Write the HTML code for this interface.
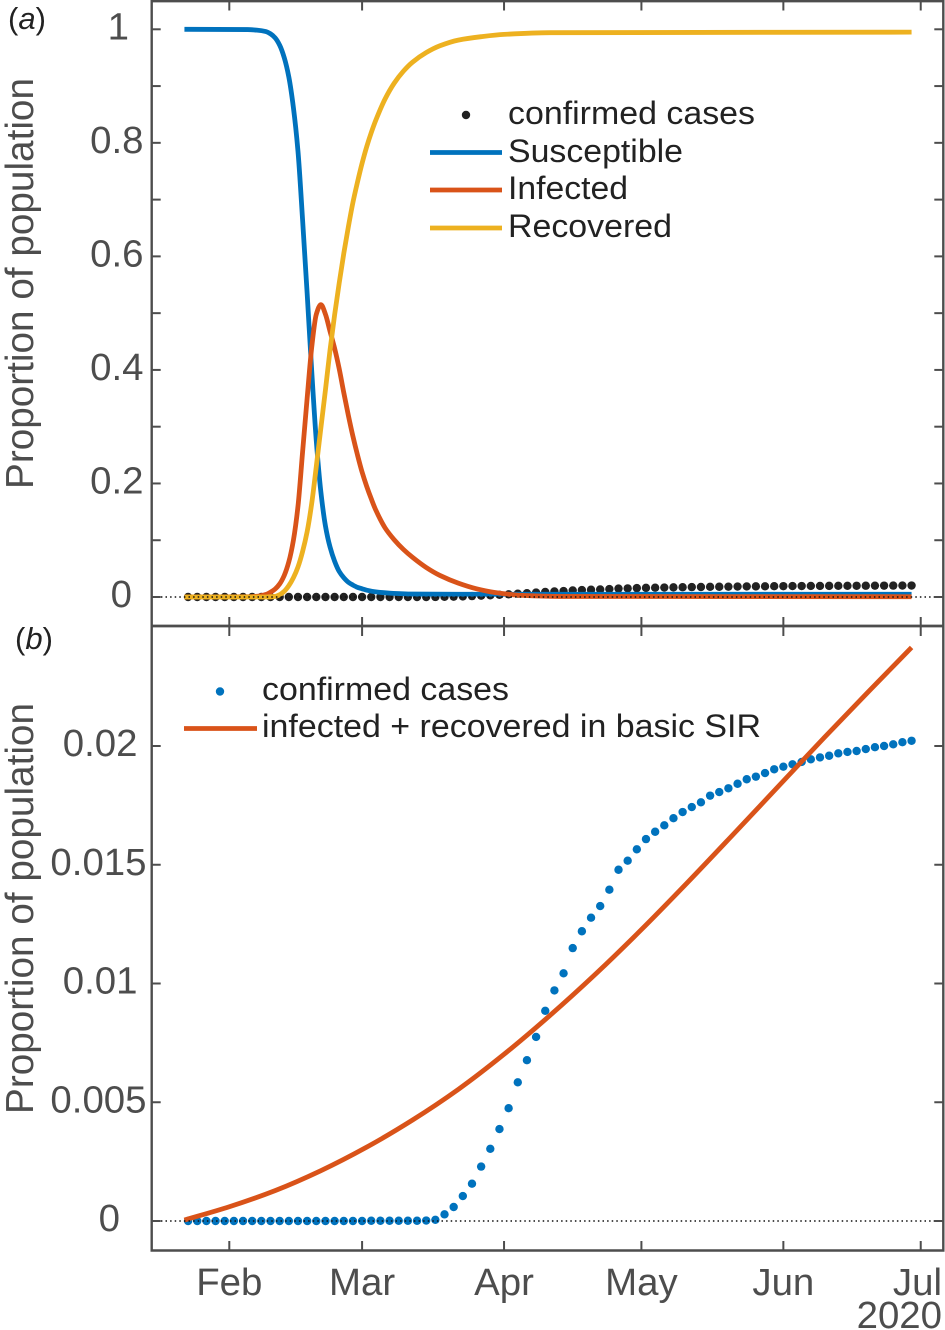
<!DOCTYPE html>
<html lang="en">
<head>
<meta charset="utf-8">
<title>SIR model and confirmed cases</title>
<style>
html,body{margin:0;padding:0;background:#fff;}
svg{display:block;font-family:"Liberation Sans",Arial,sans-serif;}
.tick-label{font-size:38.4px;fill:#4d4d4d;}
.axis-title{font-size:39px;fill:#4d4d4d;}
.legend-text{font-size:32px;fill:#222;}
.panel-letter{font-size:31px;fill:#222;}
</style>
</head>
<body>
<svg id="chart" width="945" height="1330" viewBox="0 0 945 1330" xmlns="http://www.w3.org/2000/svg">
  <g id="panel-a"></g>
  <g id="panel-b"></g>

  <text class="panel-letter" x="8" y="29">(<tspan font-style="italic">a</tspan>)</text>
  <text class="panel-letter" x="15" y="649">(<tspan font-style="italic">b</tspan>)</text>

  <text class="axis-title" transform="translate(33,489) rotate(-90)" textLength="411" lengthAdjust="spacingAndGlyphs">Proportion of population</text>
  <text class="axis-title" transform="translate(33,1114) rotate(-90)" textLength="411" lengthAdjust="spacingAndGlyphs">Proportion of population</text>

  <g>
    <circle cx="466" cy="115" r="4.2" fill="#222"/>
    <text class="legend-text" x="508" y="124" textLength="247" lengthAdjust="spacingAndGlyphs">confirmed cases</text>
    <line x1="430" x2="502" y1="152.5" y2="152.5" stroke="#0072BD" stroke-width="4.8"/>
    <text class="legend-text" x="508" y="162" textLength="175" lengthAdjust="spacingAndGlyphs">Susceptible</text>
    <line x1="430" x2="502" y1="190" y2="190" stroke="#D95319" stroke-width="4.8"/>
    <text class="legend-text" x="508" y="199" textLength="120" lengthAdjust="spacingAndGlyphs">Infected</text>
    <line x1="430" x2="502" y1="228" y2="228" stroke="#EDB120" stroke-width="4.8"/>
    <text class="legend-text" x="508" y="237" textLength="164" lengthAdjust="spacingAndGlyphs">Recovered</text>
  </g>

  <g>
    <circle cx="220" cy="691.5" r="4.2" fill="#0072BD"/>
    <text class="legend-text" x="262" y="700" textLength="247" lengthAdjust="spacingAndGlyphs">confirmed cases</text>
    <line x1="184" x2="257" y1="728.5" y2="728.5" stroke="#D95319" stroke-width="4.8"/>
    <text class="legend-text" x="262" y="737" textLength="499" lengthAdjust="spacingAndGlyphs">infected + recovered in basic SIR</text>
  </g>
</svg>

<script>
// ---- data (days are counted from 1 Feb 2020) ----
const monthLabels = ['Feb', 'Mar', 'Apr', 'May', 'Jun', 'Jul'];
const monthDays = [0, 29, 60, 90, 121, 151];
const yearLabel = '2020';

const panelATicks = [0, 0.1, 0.2, 0.3, 0.4, 0.5, 0.6, 0.7, 0.8, 0.9, 1];
const panelATickLabels = ['0', '', '0.2', '', '0.4', '', '0.6', '', '0.8', '', '1'];
const panelBTicks = [0, 0.005, 0.01, 0.015, 0.02];
const panelBTickLabels = ['0', '0.005', '0.01', '0.015', '0.02'];

const confirmedFirstDay = -9;
const confirmedStepDays = 2;
const confirmed = [
  0, 0, 0, 0, 0, 0, 0, 0, 0, 0,
  0, 0, 0, 0, 0, 0, 0, 0, 0, 0,
  0.00001, 0.00001, 0.00001, 0.00001, 0.00001, 0.00001,
  0.00002, 0.00005, 0.00028, 0.00059, 0.00105, 0.00157, 0.00229, 0.00304, 0.00387, 0.00475,
  0.00584, 0.00677, 0.00775, 0.00885, 0.00971, 0.01043, 0.01149, 0.0122, 0.01277, 0.01326,
  0.01395, 0.01479, 0.01517, 0.01565, 0.01608, 0.01639, 0.01666, 0.01696, 0.01722, 0.01743,
  0.01763, 0.01791, 0.01806, 0.01822, 0.01841, 0.0186, 0.01871, 0.01886, 0.01902, 0.01913,
  0.01923, 0.01933, 0.01944, 0.01952, 0.01959, 0.01969, 0.01975, 0.01979, 0.01987, 0.01995,
  0.02, 0.02007, 0.02016, 0.02022
];

const susceptibleDays = [-9.8, 4, 6, 8, 9, 10, 11, 12, 13, 14, 15, 16, 17, 18, 19, 20, 21, 22, 23, 24, 25, 26, 27, 28, 29, 30, 32, 35, 40, 50, 149];
const susceptible = [1, 0.9995, 0.9985, 0.996, 0.992, 0.985, 0.972, 0.95, 0.916, 0.862, 0.785, 0.665, 0.535, 0.398, 0.275, 0.185, 0.125, 0.088, 0.063, 0.045, 0.034, 0.026, 0.021, 0.017, 0.0145, 0.012, 0.009, 0.0068, 0.0052, 0.0048, 0.0048];

const infectedDays = [-9.8, 4, 6, 8, 9, 10, 11, 12, 13, 14, 15, 16, 17, 18, 19, 20, 21, 22, 23, 24, 25, 26, 27, 28, 29, 30, 31, 32, 34, 36, 38, 40, 43, 46, 50, 54, 58, 64, 72, 149];
const infected = [0, 0.0005, 0.0012, 0.0045, 0.0085, 0.014, 0.023, 0.038, 0.062, 0.1, 0.16, 0.255, 0.35, 0.44, 0.498, 0.515, 0.498, 0.468, 0.438, 0.402, 0.36, 0.32, 0.283, 0.25, 0.22, 0.195, 0.173, 0.153, 0.122, 0.101, 0.084, 0.07, 0.052, 0.038, 0.0245, 0.0145, 0.008, 0.0028, 0.001, 0.0005];

const recoveredDays = [-9.8, 8, 10, 11, 12, 13, 14, 15, 16, 17, 18, 19, 20, 21, 22, 23, 24, 25, 26, 27, 28, 29, 30, 31, 32, 34, 36, 38, 40, 43, 46, 50, 55, 60, 70, 149];
const recovered = [0, 0, 0.001, 0.004, 0.01, 0.02, 0.034, 0.053, 0.08, 0.115, 0.165, 0.23, 0.298, 0.365, 0.435, 0.497, 0.553, 0.605, 0.652, 0.695, 0.731, 0.764, 0.793, 0.818, 0.84, 0.877, 0.905, 0.926, 0.942, 0.959, 0.971, 0.981, 0.987, 0.991, 0.994, 0.995];

const sirDays = [-9.8, 0, 10, 20, 30, 40, 50, 60, 70, 80, 90, 100, 110, 120, 130, 140, 149];
const sirTotal = [0.00004, 0.0006, 0.00128, 0.00212, 0.00311, 0.00425, 0.00554, 0.00702, 0.00865, 0.0104, 0.01227, 0.01424, 0.01627, 0.01832, 0.02037, 0.02237, 0.02415];

// ---- scales ----
const NS = 'http://www.w3.org/2000/svg';
const AXIS = '#4d4d4d';
const LEFT = 151.7, RIGHT = 943.3;
function xScale(d) { return 229.3 + 4.579 * d; }
function yA(v) { return 597 - 567.7 * v; }
function yB(v) { return 1221 - 23750 * v; }

function svgEl(parent, tag, attrs) {
  const el = document.createElementNS(NS, tag);
  for (const k in attrs) el.setAttribute(k, attrs[k]);
  parent.appendChild(el);
  return el;
}

// monotone cubic path through the read points
function curvePath(days, values, yScale) {
  const xs = days.map(xScale), ys = values.map(yScale), n = xs.length;
  const sl = [], m = [];
  for (let i = 0; i < n - 1; i++) sl.push((ys[i + 1] - ys[i]) / (xs[i + 1] - xs[i]));
  m.push(sl[0]);
  for (let i = 1; i < n - 1; i++) m.push(sl[i - 1] * sl[i] <= 0 ? 0 : 2 * sl[i - 1] * sl[i] / (sl[i - 1] + sl[i]));
  m.push(sl[n - 2]);
  let d = 'M' + xs[0].toFixed(2) + ' ' + ys[0].toFixed(2);
  for (let i = 0; i < n - 1; i++) {
    const h = (xs[i + 1] - xs[i]) / 3;
    d += 'C' + (xs[i] + h).toFixed(2) + ' ' + (ys[i] + m[i] * h).toFixed(2) + ' ' +
      (xs[i + 1] - h).toFixed(2) + ' ' + (ys[i + 1] - m[i + 1] * h).toFixed(2) + ' ' +
      xs[i + 1].toFixed(2) + ' ' + ys[i + 1].toFixed(2);
  }
  return d;
}

function drawCurve(parent, name, days, values, yScale, color) {
  const p = svgEl(parent, 'path', { d: curvePath(days, values, yScale), fill: 'none', stroke: color, 'stroke-width': 4.8, 'stroke-linejoin': 'round' });
  
  
}

function drawDots(parent, name, yScale, color) {
  const g = svgEl(parent, 'g', { fill: color });
  
  
  confirmed.forEach(function (v, i) {
    const c = svgEl(g, 'circle', { cx: xScale(confirmedFirstDay + confirmedStepDays * i).toFixed(2), cy: yScale(v).toFixed(2), r: 4.2 });
    
    
  });
}

function drawBaseline(parent, name, y) {
  const l = svgEl(parent, 'line', { x1: LEFT, x2: RIGHT, y1: y, y2: y, stroke: '#111', 'stroke-width': 1.6, 'stroke-dasharray': '1.5 3.1' });
  
  
}

function axisLine(parent, name, x1, y1, x2, y2, w) {
  const l = svgEl(parent, 'line', { x1: x1, y1: y1, x2: x2, y2: y2, stroke: AXIS, 'stroke-width': w });
  
  
}

function yLabelEnd(panel, label) {
  if (panel === 'a') return label === '1' ? 129 : label === '0' ? 132 : 143.5;
  return label.length === 5 ? 146.5 : label.length === 4 ? 137.5 : 120;
}

function drawYAxis(parent, panel, ticks, labels, yScale) {
  ticks.forEach(function (t, i) {
    const y = yScale(t);
    axisLine(parent, 'y-tick-left', LEFT, y, LEFT + 9, y, 2);
    axisLine(parent, 'y-tick-right', RIGHT - 9, y, RIGHT, y, 2);
    if (labels[i]) {
      const tx = svgEl(parent, 'text', { x: yLabelEnd(panel, labels[i]), y: y + 10, 'text-anchor': 'end', class: 'tick-label' });
      
      
      tx.textContent = labels[i];
    }
  });
}

// ---- panel a ----
const pa = document.getElementById('panel-a');
drawDots(pa, 'confirmed-cases-series-a', yA, '#222');
drawCurve(pa, 'susceptible-line', susceptibleDays, susceptible, yA, '#0072BD');
drawCurve(pa, 'infected-line', infectedDays, infected, yA, '#D95319');
drawCurve(pa, 'recovered-line', recoveredDays, recovered, yA, '#EDB120');
drawBaseline(pa, 'zero-line-a', yA(0));
axisLine(pa, 'panel-a-top-axis', LEFT - 1.2, 1.2, RIGHT + 1.2, 1.2, 2.4);
axisLine(pa, 'panel-a-left-axis', LEFT, 0, LEFT, 626, 2.4);
axisLine(pa, 'panel-a-right-axis', RIGHT, 0, RIGHT, 626, 2.4);
drawYAxis(pa, 'a', panelATicks, panelATickLabels, yA);
monthDays.forEach(function (d) {
  const x = xScale(d);
  axisLine(pa, 'x-tick-top', x, 1, x, 10.5, 2);
  axisLine(pa, 'x-tick-bottom-a', x, 617, x, 626, 2);
});

// ---- panel b ----
const pb = document.getElementById('panel-b');
drawDots(pb, 'confirmed-cases-series-b', yB, '#0072BD');
drawCurve(pb, 'infected-plus-recovered-line', sirDays, sirTotal, yB, '#D95319');
drawBaseline(pb, 'zero-line-b', yB(0));
axisLine(pb, 'panel-divider-axis', LEFT - 1.2, 626, RIGHT + 1.2, 626, 2.8);
axisLine(pb, 'panel-b-bottom-axis', LEFT - 1.2, 1250.5, RIGHT + 1.2, 1250.5, 2.6);
axisLine(pb, 'panel-b-left-axis', LEFT, 626, LEFT, 1251, 2.4);
axisLine(pb, 'panel-b-right-axis', RIGHT, 626, RIGHT, 1251, 2.4);
drawYAxis(pb, 'b', panelBTicks, panelBTickLabels, yB);
monthDays.forEach(function (d, i) {
  const x = xScale(d);
  axisLine(pb, 'x-tick-top-b', x, 626, x, 636, 2);
  axisLine(pb, 'x-tick-bottom-b', x, 1241, x, 1250, 2);
  const last = i === monthDays.length - 1;
  const tx = svgEl(pb, 'text', { x: last ? 942 : x, y: 1295, 'text-anchor': last ? 'end' : 'middle', class: 'tick-label' });
  
  
  tx.textContent = monthLabels[i];
});
const yr = svgEl(pb, 'text', { x: 942, y: 1328, 'text-anchor': 'end', class: 'tick-label' });


yr.textContent = yearLabel;
</script>
</body>
</html>
